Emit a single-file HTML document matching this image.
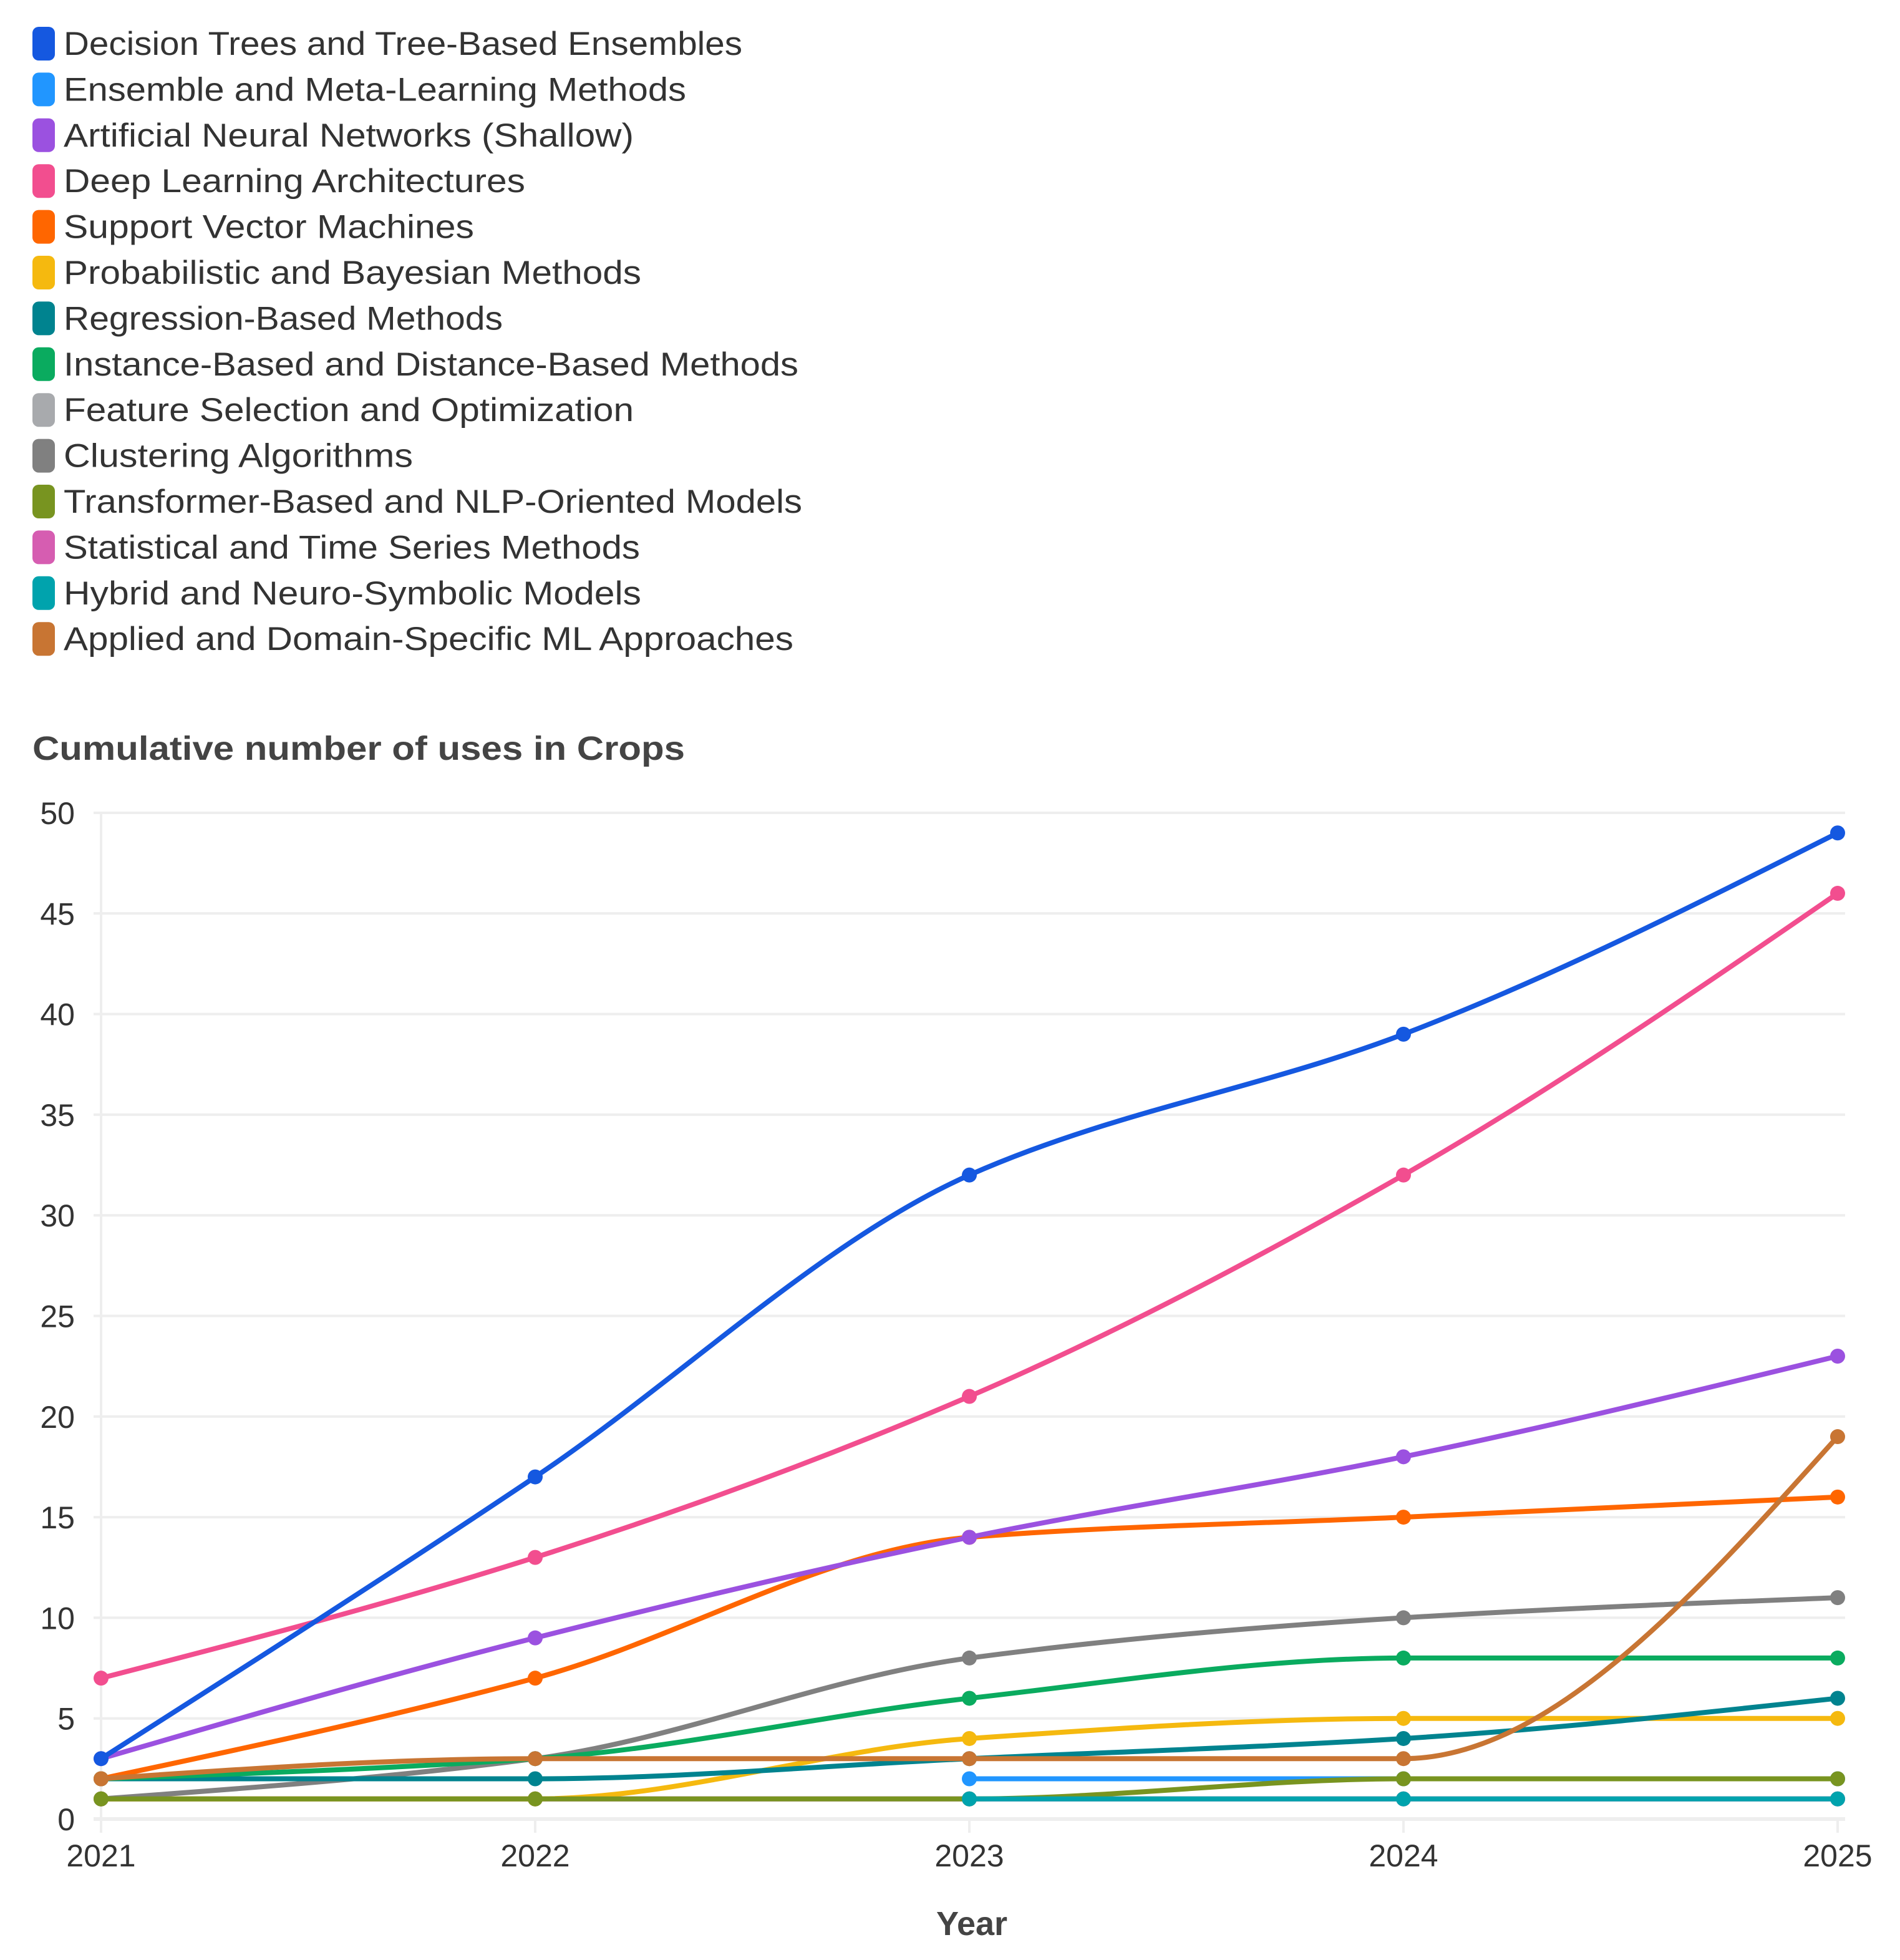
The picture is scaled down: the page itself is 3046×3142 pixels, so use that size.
<!DOCTYPE html>
<html><head><meta charset="utf-8"><style>
html,body{margin:0;padding:0;background:#fff}
svg{display:block}
text{font-family:"Liberation Sans",sans-serif}
</style></head><body>
<svg id="chart" width="3046" height="3142" viewBox="0 0 3046 3142" xmlns="http://www.w3.org/2000/svg">
<g id="legend"></g>
<text x="52" y="1218" font-size="54" font-weight="bold" fill="#444" textLength="1046" lengthAdjust="spacingAndGlyphs">Cumulative number of uses in Crops</text>
<g id="grid"></g>
<g id="series"></g>
<g id="axes"></g>
<text x="1558" y="3102" font-size="54" font-weight="bold" fill="#444" text-anchor="middle">Year</text>
</svg>
<script>
const years = [2021, 2022, 2023, 2024, 2025];
const yTicks = [0, 5, 10, 15, 20, 25, 30, 35, 40, 45, 50];
const seriesNames = ["Decision Trees and Tree-Based Ensembles","Ensemble and Meta-Learning Methods","Artificial Neural Networks (Shallow)","Deep Learning Architectures","Support Vector Machines","Probabilistic and Bayesian Methods","Regression-Based Methods","Instance-Based and Distance-Based Methods","Feature Selection and Optimization","Clustering Algorithms","Transformer-Based and NLP-Oriented Models","Statistical and Time Series Methods","Hybrid and Neuro-Symbolic Models","Applied and Domain-Specific ML Approaches"];
const seriesColors = ["#1558e0","#2196ff","#9b51e0","#f24e8f","#ff6600","#f5b90f","#00838f","#0aab5f","#a8aaad","#808080","#789420","#d65db1","#00a3ad","#c87533"];
const decisionTrees = [3, 17, 32, 39, 49];
const ensembleMeta = [null, null, 2, 2, 2];
const annShallow = [3, 9, 14, 18, 23];
const deepLearning = [7, 13, 21, 32, 46];
const svm = [2, 7, 14, 15, 16];
const bayesian = [1, 1, 4, 5, 5];
const regression = [2, 2, 3, 4, 6];
const instanceBased = [2, 3, 6, 8, 8];
const featureSel = [1, 1, 1, 1, 1];
const clustering = [1, 3, 8, 10, 11];
const transformer = [1, 1, 1, 2, 2];
const statistical = [1, 1, 1, 1, 1];
const hybrid = [null, null, 1, 1, 1];
const applied = [2, 3, 3, 3, 19];
const seriesValues = [decisionTrees, ensembleMeta, annShallow, deepLearning, svm, bayesian, regression, instanceBased, featureSel, clustering, transformer, statistical, hybrid, applied];
const drawOrder = [8, 11, 1, 5, 9, 6, 7, 10, 12, 4, 2, 3, 0, 13];
const legendWidths = [1088, 998, 914, 740, 658, 926, 704, 1178, 914, 560, 1184, 924, 926, 1170];

const NS = "http://www.w3.org/2000/svg";
const X0 = 162, X1 = 2946, Y0 = 2916, Y1 = 1303;
const xScale = i => X0 + (X1 - X0) * (years[i] - years[0]) / (years[years.length-1] - years[0]);
const yScale = v => Y0 - (Y0 - Y1) * v / 50;
function mk(tag, attrs, parent){const e=document.createElementNS(NS,tag);for(const k in attrs)e.setAttribute(k,attrs[k]);parent.appendChild(e);return e;}

const leg = document.getElementById('legend');
seriesNames.forEach((n,i)=>{
  const cy = 70 + i*73.4;
  const r = mk('rect',{x:52,y:cy-27,width:36,height:54,rx:10,fill:seriesColors[i]},leg);
  
  
  const t = mk('text',{x:102,y:cy+18,'font-size':53,fill:'#333',textLength:legendWidths[i],lengthAdjust:'spacingAndGlyphs'},leg);
  
  
  t.textContent = n;
});

const grid = document.getElementById('grid'), axes = document.getElementById('axes');
yTicks.forEach(v=>{
  const y = yScale(v);
  const l = mk('line',{x1:150,x2:2958,y1:y,y2:y,stroke:'#eeeeee','stroke-width':v===0?6:4},grid);
  
  
  const t = mk('text',{x:120,y:y+18,'font-size':50,fill:'#333','text-anchor':'end'},axes);
  
  
  t.textContent = v;
});
years.forEach((yr,i)=>{
  const x = xScale(i);
  const l = mk('line',{x1:x,x2:x,y1:i===0?Y1:Y0,y2:Y0+22,stroke:'#eeeeee','stroke-width':4},grid);
  
  
  const t = mk('text',{x:x,y:2992,'font-size':50,fill:'#333','text-anchor':'middle'},axes);
  
  
  t.textContent = yr;
});

function monotonePath(pts){
  const n=pts.length; if(n<2) return '';
  const dx=[],m=[],t=[];
  for(let i=0;i<n-1;i++){dx[i]=pts[i+1][0]-pts[i][0];m[i]=(pts[i+1][1]-pts[i][1])/dx[i];}
  for(let i=0;i<n;i++){
    if(i===0) t[i]=m[0]; else if(i===n-1) t[i]=m[n-2];
    else { if(m[i-1]*m[i]<=0) t[i]=0; else { const a=dx[i-1],b=dx[i]; t[i]=3*(a+b)/((2*b+a)/m[i-1]+(b+2*a)/m[i]); } }
  }
  if(n>2){t[0]=(3*m[0]-t[1])/2; if(t[0]*m[0]<=0)t[0]=0; t[n-1]=(3*m[n-2]-t[n-2])/2; if(t[n-1]*m[n-2]<=0)t[n-1]=0;}
  let d=`M${pts[0][0]},${pts[0][1]}`;
  for(let i=0;i<n-1;i++){const h=dx[i]/3;d+=` C${pts[i][0]+h},${pts[i][1]+t[i]*h} ${pts[i+1][0]-h},${pts[i+1][1]-t[i+1]*h} ${pts[i+1][0]},${pts[i+1][1]}`;}
  return d;
}
const sg = document.getElementById('series');
drawOrder.forEach(si=>{
  const vals = seriesValues[si], col = seriesColors[si];
  const pts = [];
  vals.forEach((v,i)=>{ if(v!==null) pts.push([xScale(i), yScale(v)]); });
  const g = mk('g',{},sg);
  
  
  const p = mk('path',{d:monotonePath(pts),fill:'none',stroke:col,'stroke-width':8,'stroke-linecap':'round'},g);
  
  
  pts.forEach(pt=>{
    const c = mk('circle',{cx:pt[0],cy:pt[1],r:12,fill:col},g);
    
    
  });
});
</script>
</body></html>
